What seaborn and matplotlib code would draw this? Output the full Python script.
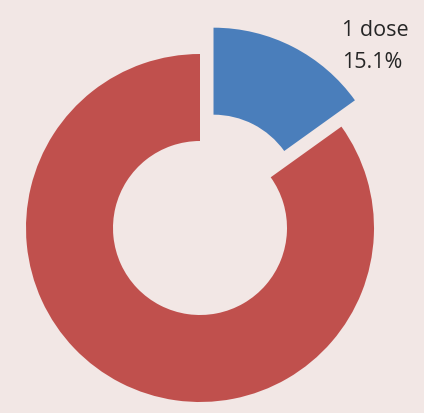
import matplotlib
matplotlib.use("Agg")
import matplotlib.pyplot as plt
import seaborn as sns

# === Data ===
labels = ["1 dose", "2 doses"]
shares = [15.1, 84.9]
colors = ["#4a7ebb", "#c0504d"]
explode = [0.17, 0.0]

bg = "#f2e7e5"
sns.set_theme(style="white", rc={"figure.facecolor": bg, "axes.facecolor": bg})
plt.rcParams["font.family"] = ["Open Sans", "DejaVu Sans"]

fig = plt.figure(figsize=(4.24, 4.14), dpi=100)
ax = fig.add_axes([0, 0, 1, 1])
ax.pie(shares, colors=colors, explode=explode, startangle=90, counterclock=False,
       radius=1.0, wedgeprops=dict(width=0.5, edgecolor="none"))

# label for the highlighted slice only
ax.text(0.815, 1.20, f"{labels[0]}\n{shares[0]:.1f}%", ha="left", va="top",
        fontsize=15.5, color="#262626", linespacing=1.65)

ax.set_xlim(-200 / 174, 224 / 174)
ax.set_ylim(-185 / 174, 229 / 174)
ax.set_aspect("equal")
ax.axis("off")

fig.savefig("out.png", dpi=100, facecolor=bg)
